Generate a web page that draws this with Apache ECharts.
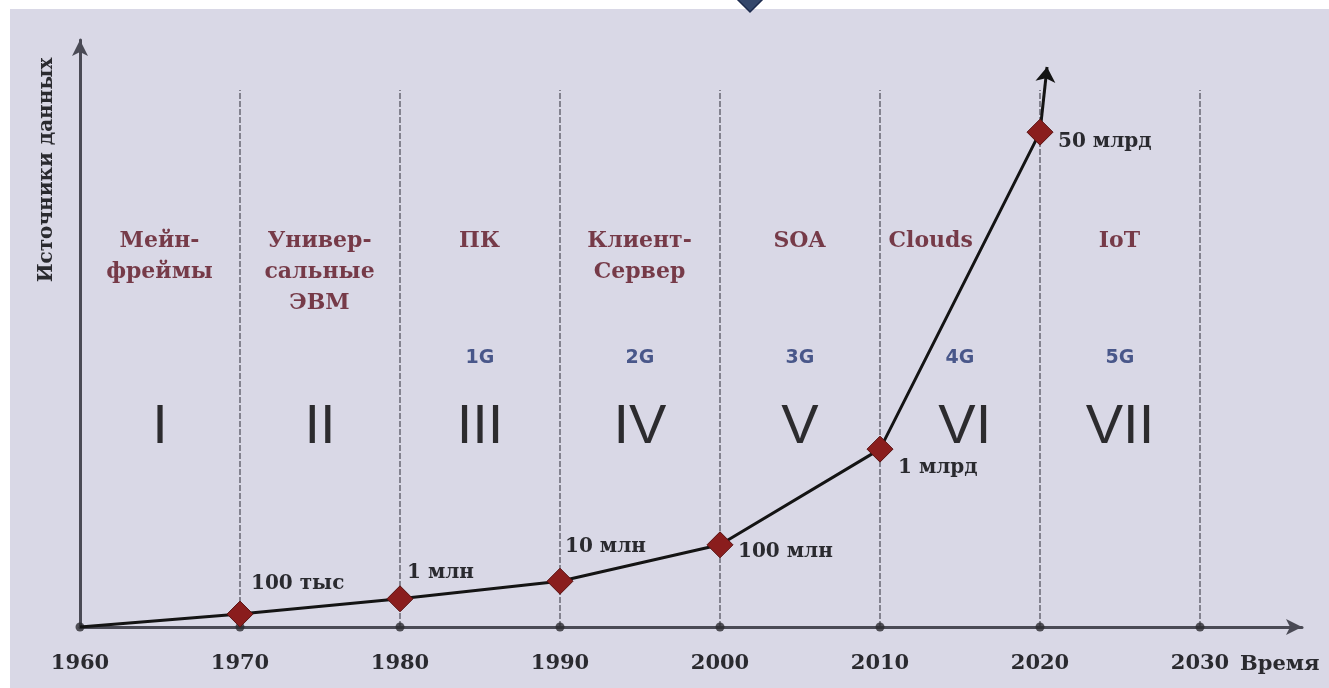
<!DOCTYPE html>
<html>
<head>
<meta charset="utf-8">
<script src="https://cdn.jsdelivr.net/npm/echarts@6/dist/echarts.min.js"></script>
<style>
html,body{margin:0;padding:0;background:#ffffff;}
#chart{width:1329px;height:688px;}
</style>
</head>
<body>
<div id="chart"></div>
<script>
// ---- data ----
const years = [1960, 1970, 1980, 1990, 2000, 2010, 2020];
const sources = [0, 2.2, 4.8, 7.8, 14.0, 30.3, 84.3];
const pointLabels = ['', '100 тыс', '1 млн', '10 млн', '100 млн', '1 млрд', '50 млрд'];
const arrowEnd = [2020.44, 95.4];
const tickYears = [1960, 1970, 1980, 1990, 2000, 2010, 2020, 2030];
const dividerYears = [1970, 1980, 1990, 2000, 2010, 2020, 2030];
const dividerTop = 91.5;
const eraNames = ['Мейн-\nфреймы', 'Универ-\nсальные\nЭВМ', 'ПК', 'Клиент-\nСервер', 'SOA', 'Clouds', 'IoT'];
const eraX = [1965, 1975, 1985, 1995, 2005, 2013.2, 2025];
const eraY = 68.2;
const genNames = ['1G', '2G', '3G', '4G', '5G'];
const genX = [1985, 1995, 2005, 2015, 2025];
const genY = 45.8;
const romans = ['I', 'II', 'III', 'IV', 'V', 'VI', 'VII'];
const romanX = [1965, 1975, 1985, 1995, 2005, 2015.3, 2025];
const romanY = 33.9;
const xTitle = 'Время';
const yTitle = 'Источники данных';

// ---- styles ----
const labelOffsets = [[0,0],[11,-30],[7,-26],[5,-34],[18,7],[18,19],[18,10]];
const serif = '"DejaVu Serif", "Liberation Serif", serif';

const chart = echarts.init(document.getElementById('chart'));

const dividerSeries = dividerYears.map(y => ({
  type: 'line',
  silent: true,
  symbol: 'none',
  z: 1,
  lineStyle: {color: '#4a4a55', width: 1.2, type: [6, 2]},
  data: [[y, 0], [y, dividerTop]]
}));

const option = {
  backgroundColor: '#ffffff',
  animation: false,
  grid: {left: 80, right: 27, top: 40, bottom: 61, containLabel: false},
  xAxis: {
    type: 'value', min: 1960, max: 2036.375, interval: 10,
    axisLine: {show: true, symbol: ['none', 'arrow'], symbolSize: [12, 16],
      lineStyle: {color: '#4a4a55', width: 3}},
    axisTick: {show: false},
    splitLine: {show: false},
    axisLabel: {
      margin: 26, fontFamily: serif, fontWeight: 'bold', fontSize: 21, color: '#2a2a2f',
      formatter: v => (tickYears.indexOf(v) >= 0 ? String(v) : '')
    }
  },
  yAxis: {
    type: 'value', min: 0, max: 100,
    axisLine: {show: true, symbol: ['none', 'arrow'], symbolSize: [12, 16],
      lineStyle: {color: '#4a4a55', width: 3}},
    axisTick: {show: false},
    splitLine: {show: false},
    axisLabel: {show: false}
  },
  graphic: [
    {type: 'rect', z: -100, silent: true, shape: {x: 10, y: 9, width: 1319, height: 679},
      style: {fill: '#d9d8e6'}},
    {type: 'polygon', z: 100, silent: true,
      shape: {points: [[750, -14], [763, -1], [750, 12], [737, -1]]},
      style: {fill: '#34476b', stroke: '#1d2b4d', lineWidth: 1.5}},
    {type: 'text', z: 100, silent: true, x: 47, y: 170, rotation: Math.PI / 2,
      style: {text: yTitle, fontFamily: serif, fontWeight: 'bold', fontSize: 20, fill: '#2a2a2f',
        align: 'center', verticalAlign: 'middle'}},
    {type: 'text', z: 100, silent: true, x: 1240, y: 665,
      style: {text: xTitle, fontFamily: serif, fontWeight: 'bold', fontSize: 21, fill: '#2a2a2f',
        align: 'left', verticalAlign: 'middle'}}
  ],
  series: [
    ...dividerSeries,
    {
      type: 'scatter', silent: true, z: 3,
      symbol: 'circle', symbolSize: 9,
      itemStyle: {color: '#2a2a30'},
      data: tickYears.map(y => [y, 0])
    },
    {
      type: 'scatter', silent: true, z: 4, symbolSize: 1,
      itemStyle: {color: 'rgba(0,0,0,0)'},
      label: {show: true, position: [0, 0], align: 'center', verticalAlign: 'top',
        fontFamily: serif, fontWeight: 'bold', fontSize: 22, lineHeight: 31, color: '#5c1320',
        formatter: p => eraNames[p.dataIndex]},
      data: eraX.map(x => [x, eraY])
    },
    {
      type: 'scatter', silent: true, z: 4, symbolSize: 1,
      itemStyle: {color: 'rgba(0,0,0,0)'},
      label: {show: true, position: 'inside', align: 'center', verticalAlign: 'middle',
        fontFamily: '"DejaVu Sans", sans-serif', fontWeight: 'bold', fontSize: 19, color: '#243773',
        formatter: p => genNames[p.dataIndex]},
      data: genX.map(x => [x, genY])
    },
    {
      type: 'scatter', silent: true, z: 4, symbolSize: 1,
      itemStyle: {color: 'rgba(0,0,0,0)'},
      label: {show: true, position: 'inside', align: 'center', verticalAlign: 'middle',
        fontFamily: '"Liberation Sans", Arial, sans-serif', fontSize: 56, color: '#000000',
        formatter: p => romans[p.dataIndex]},
      data: romanX.map(x => [x, romanY])
    },
    {
      type: 'line', z: 10,
      lineStyle: {color: '#141414', width: 3},
      symbol: 'diamond', symbolSize: 26,
      itemStyle: {color: '#8a1d1d', borderColor: '#5a1212', borderWidth: 1},
      data: years.map((y, i) => ({
        value: [y, sources[i]],
        symbol: i === 0 ? 'none' : 'diamond',
        label: {
          show: i > 0, position: 'inside', align: 'left', verticalAlign: 'middle',
          offset: labelOffsets[i],
          fontFamily: serif, fontWeight: 'bold', fontSize: 20, color: '#2a2a2f',
          formatter: () => pointLabels[i]
        }
      })),
      markLine: {
        silent: true, symbol: ['none', 'arrow'], symbolSize: 15,
        label: {show: false},
        lineStyle: {color: '#141414', width: 3, type: 'solid'},
        data: [[{coord: [years[years.length - 1], sources[sources.length - 1]]}, {coord: arrowEnd}]]
      }
    }
  ]
};
chart.setOption(option);
</script>
</body>
</html>
